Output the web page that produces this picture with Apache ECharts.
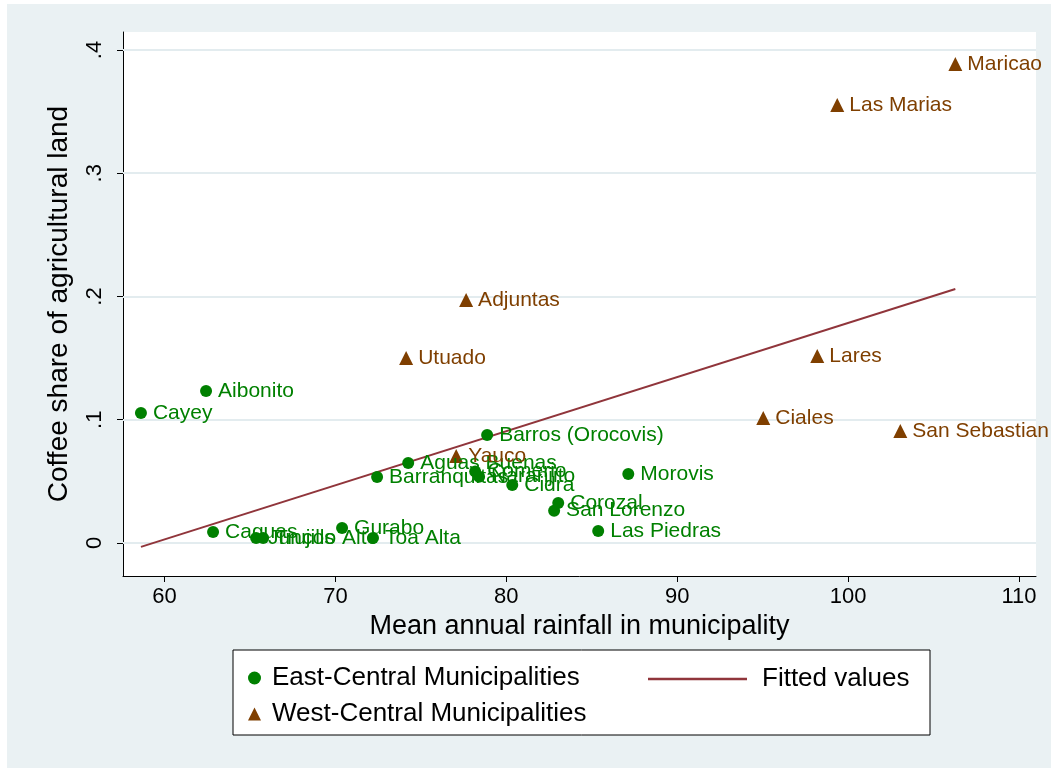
<!DOCTYPE html>
<html>
<head>
<meta charset="utf-8">
<script src="https://cdn.jsdelivr.net/npm/echarts@6/dist/echarts.min.js"></script>
<style>
html,body{margin:0;padding:0;background:#ffffff;}
#bg{position:absolute;left:7px;top:4px;right:0;bottom:0;background:#EAF1F3;}
#chart{position:absolute;left:0;top:0;width:1051px;height:768px;}
</style>
</head>
<body>
<div id="bg"></div>
<div id="chart"></div>
<script>
// ---- data ----
var eastNames = ['Cayey','Aibonito','Caguas','Juncos','Trujillo Alto','Gurabo','Toa Alta','Barranquitas','Aguas Buenas','Barros (Orocovis)','Comerio','Naranjito','Cidra','Corozal','San Lorenzo','Morovis','Las Piedras'];
var eastX = [58.62, 62.43, 62.84, 65.36, 65.77, 70.39, 72.20, 72.44, 74.26, 78.88, 78.18, 78.41, 80.35, 83.04, 82.80, 87.14, 85.38];
var eastY = [0.1055, 0.1233, 0.0089, 0.0041, 0.0041, 0.0122, 0.0041, 0.0535, 0.0649, 0.0876, 0.0579, 0.0538, 0.0471, 0.0325, 0.0262, 0.0560, 0.0097];

var westNames = ['Maricao','Las Marias','Adjuntas','Utuado','Lares','Ciales','San Sebastian','Yauco'];
var westX = [106.28, 99.37, 77.65, 74.14, 98.20, 95.04, 103.06, 77.07];
var westY = [0.3886, 0.3554, 0.1972, 0.1501, 0.1517, 0.1014, 0.0909, 0.0706];

var fittedX = [58.62, 106.28];
var fittedY = [-0.0032, 0.2061];

var xTicks = [60, 70, 80, 90, 100, 110];
var yTicks = [0, 0.1, 0.2, 0.3, 0.4];
var yTickLabels = ['0', '.1', '.2', '.3', '.4'];

var seriesNames = ['East-Central Municipalities', 'West-Central Municipalities', 'Fitted values'];
var xTitle = 'Mean annual rainfall in municipality';
var yTitle = 'Coffee share of agricultural land';

// ---- styles ----
var GREEN = '#008000';
var BROWN = '#7F3F00';
var MAROON = '#90353B';
var FONT = '"Liberation Sans", Arial, sans-serif';

function pts(names, xs, ys) {
  return names.map(function (n, i) { return { name: n, value: [xs[i], ys[i]] }; });
}

var chart = echarts.init(document.getElementById('chart'), null, { renderer: 'canvas' });

var option = {
  animation: false,
  backgroundColor: 'transparent',
  textStyle: { fontFamily: FONT },
  grid: {
    left: 123, top: 32, right: 15, bottom: 192,
    show: true, backgroundColor: '#ffffff', borderWidth: 0
  },
  graphic: [{
    type: 'rect', z: 1,
    shape: { x: 233, y: 650, width: 697, height: 85 },
    style: { fill: '#ffffff', stroke: '#000000', lineWidth: 1 }
  }],
  legend: [{
    z: 5,
    orient: 'vertical', left: 243, top: 660,
    itemWidth: 13, itemHeight: 13, itemGap: 10,
    textStyle: { fontFamily: FONT, fontSize: 26, color: '#000', padding: [0, 0, 0, 6] },
    data: [
      { name: seriesNames[0], icon: 'circle' },
      { name: seriesNames[1], icon: 'triangle' }
    ]
  }, {
    z: 5,
    orient: 'horizontal', left: 643, top: 661,
    itemWidth: 99, itemHeight: 2.5,
    textStyle: { fontFamily: FONT, fontSize: 26, color: '#000', padding: [0, 0, 0, 10] },
    data: [{ name: seriesNames[2], icon: 'rect' }]
  }],
  xAxis: {
    type: 'value', min: 57.57, max: 111.0,
    name: xTitle, nameLocation: 'middle', nameGap: 31,
    nameTextStyle: { fontFamily: FONT, fontSize: 27, color: '#000' },
    axisLine: { show: true, onZero: false, lineStyle: { color: '#000', width: 1 } },
    axisTick: { show: true, length: 6, lineStyle: { color: '#000' }, customValues: xTicks },
    axisLabel: { fontFamily: FONT, fontSize: 22, color: '#000', margin: 10, customValues: xTicks },
    splitLine: { show: false }
  },
  yAxis: {
    type: 'value', min: -0.0268, max: 0.4146,
    name: yTitle, nameLocation: 'middle', nameGap: 50,
    nameTextStyle: { fontFamily: FONT, fontSize: 28, color: '#000' },
    axisLine: { show: true, onZero: false, lineStyle: { color: '#000', width: 1 } },
    axisTick: { show: true, length: 6, lineStyle: { color: '#000' }, customValues: yTicks },
    axisLabel: {
      fontFamily: FONT, fontSize: 22, color: '#000', margin: 17, rotate: 90,
      customValues: yTicks,
      formatter: function (v) {
        for (var i = 0; i < yTicks.length; i++) { if (Math.abs(yTicks[i] - v) < 1e-9) return yTickLabels[i]; }
        return '';
      }
    },
    splitLine: { show: false }
  },
  series: [{
    name: 'grid', type: 'line', data: [], z: 1, silent: true,
    markLine: {
      z: 1, silent: true, symbol: 'none', label: { show: false },
      lineStyle: { color: '#E3ECEF', width: 2, type: 'solid' },
      data: yTicks.map(function (v) { return { yAxis: v }; })
    }
  }, {
    name: seriesNames[2], type: 'line', z: 2,
    data: fittedX.map(function (x, i) { return [x, fittedY[i]]; }),
    symbol: 'none', showSymbol: false,
    lineStyle: { color: MAROON, width: 2 },
    itemStyle: { color: MAROON }
  }, {
    name: seriesNames[0], type: 'scatter', z: 3,
    data: pts(eastNames, eastX, eastY),
    symbol: 'circle', symbolSize: 12,
    itemStyle: { color: GREEN, opacity: 1 },
    label: { show: true, position: 'right', distance: 6, formatter: '{b}', fontFamily: FONT, fontSize: 21, color: GREEN }
  }, {
    name: seriesNames[1], type: 'scatter', z: 3,
    data: pts(westNames, westX, westY),
    symbol: 'triangle', symbolSize: 14,
    itemStyle: { color: BROWN, opacity: 1 },
    label: { show: true, position: 'right', distance: 5, formatter: '{b}', fontFamily: FONT, fontSize: 21, color: BROWN }
  }]
};
chart.setOption(option);
</script>
</body>
</html>
